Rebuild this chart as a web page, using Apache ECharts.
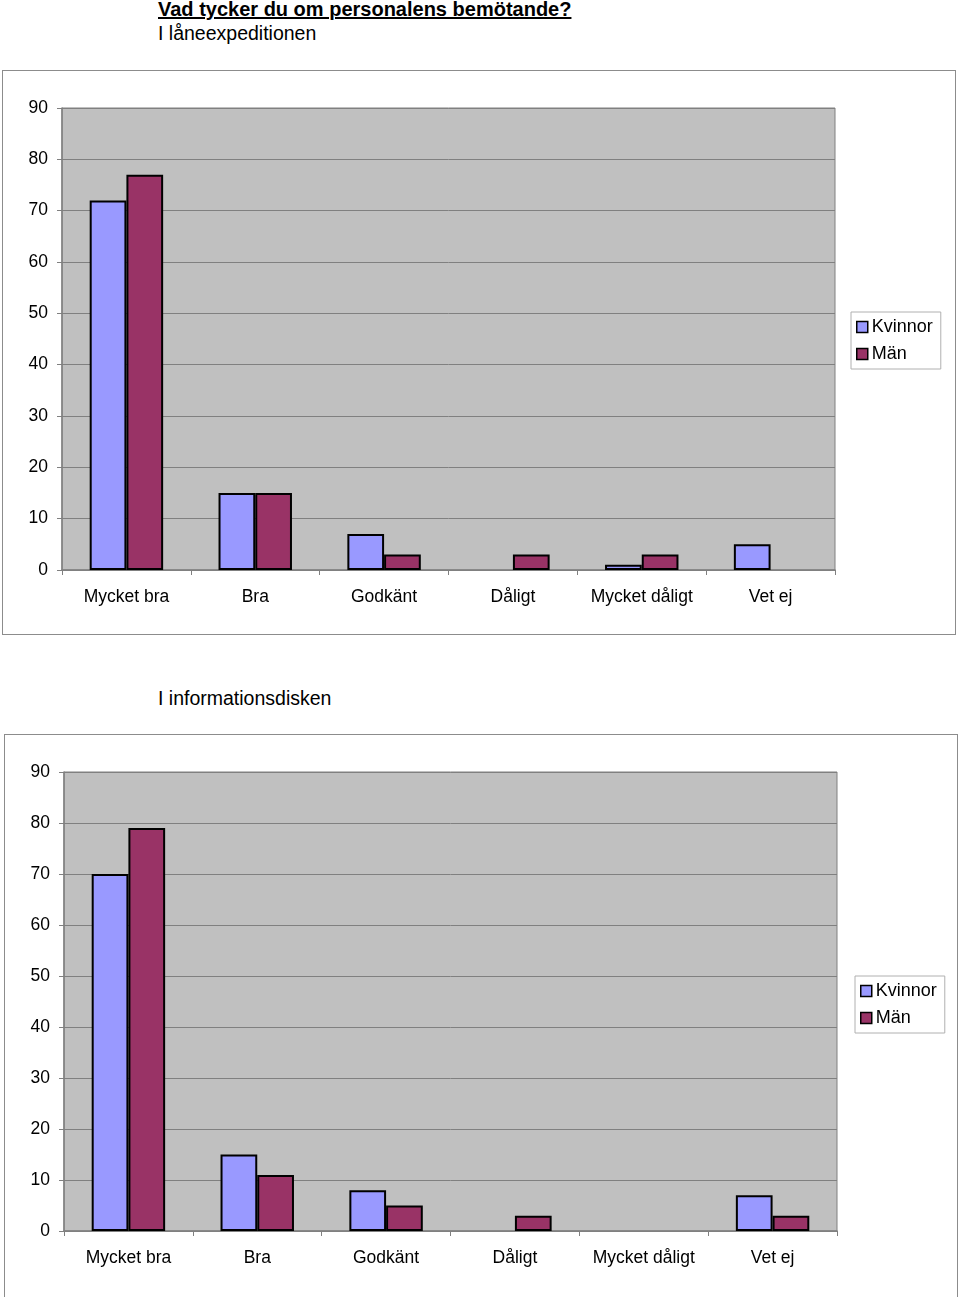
<!DOCTYPE html>
<html>
<head>
<meta charset="utf-8">
<script src="https://cdn.jsdelivr.net/npm/echarts@6/dist/echarts.min.js"></script>
<style>
  body { margin: 0; background: #fff; font-family: "Liberation Sans", Arial, sans-serif; }
  .page { position: relative; width: 960px; height: 1297px; overflow: hidden; }
  .title { position: absolute; left: 158px; top: -2px; font-size: 20px; font-weight: bold; text-decoration: underline; color: #000; }
  .sub { position: absolute; left: 158px; font-size: 19.5px; color: #000; }
  .box { position: absolute; border: 1px solid #8c8c8c; box-sizing: border-box; }
</style>
</head>
<body>
<div class="page">
  <div class="title">Vad tycker du om personalens bemötande?</div>
  <div class="sub" style="top:22px">I låneexpeditionen</div>
  <div id="chart1" class="box" style="left:2px; top:70px; width:954px; height:565px"></div>
  <div class="sub" style="top:687px">I informationsdisken</div>
  <div id="chart2" class="box" style="left:4px; top:734px; width:954px; height:566px"></div>
</div>
<script>
const categories = ['Mycket bra', 'Bra', 'Godkänt', 'Dåligt', 'Mycket dåligt', 'Vet ej']
const seriesNames = ['Kvinnor', 'Män']

// I låneexpeditionen
const lanKvinnor = [72, 15, 7, 0, 1, 5]
const lanMan = [77, 15, 3, 3, 3, 0]

// I informationsdisken
const infoKvinnor = [70, 15, 8, 0, 0, 7]
const infoMan = [79, 11, 5, 3, 0, 3]

const colors = ['#9999ff', '#993366']
const font = '"Liberation Sans", Arial, sans-serif'

// tomma celler ritas inte (ingen svart kant på nollvärden)
function noZero(arr) {
  return arr.map(v => (v === 0 ? null : v))
}

function buildOption(kvinnor, man, gridHeight, legendLeft) {
  return {
    animation: false,
    textStyle: { fontFamily: font },
    grid: {
      left: 59,
      top: 37,
      width: 773,
      height: gridHeight,
      show: true,
      backgroundColor: '#c0c0c0',
      borderColor: '#808080',
      borderWidth: 1
    },
    legend: {
      orient: 'vertical',
      left: legendLeft,
      top: 241,
      data: seriesNames,
      itemWidth: 11,
      itemHeight: 11,
      itemGap: 9,
      padding: [6, 8, 6, 5],
      borderColor: '#b0b0b0',
      borderWidth: 1,
      backgroundColor: '#fff',
      textStyle: { fontSize: 18, color: '#000', padding: [0, 0, 0, -1] },
      icon: 'rect',
      itemStyle: { borderColor: '#000', borderWidth: 1.5 }
    },
    xAxis: {
      type: 'category',
      data: categories,
      axisLine: { lineStyle: { color: '#808080', width: 1.5 } },
      axisTick: { show: true, length: 5, lineStyle: { color: '#808080' } },
      axisLabel: { color: '#000', fontSize: 17.5, margin: 18, interval: 0 }
    },
    yAxis: {
      type: 'value',
      min: 0,
      max: 90,
      interval: 10,
      axisLine: { show: true, lineStyle: { color: '#808080', width: 1.5 } },
      axisTick: { show: true, length: 5, lineStyle: { color: '#808080' } },
      axisLabel: { color: '#000', fontSize: 17.5, margin: 14, padding: [3, 0, 0, 0] },
      splitLine: { lineStyle: { color: '#808080', width: 1 } }
    },
    series: [
      {
        name: seriesNames[0],
        type: 'bar',
        data: noZero(kvinnor),
        barGap: '0%',
        barCategoryGap: '43%',
        itemStyle: { color: colors[0], borderColor: '#000', borderWidth: 2 }
      },
      {
        name: seriesNames[1],
        type: 'bar',
        data: noZero(man),
        itemStyle: { color: colors[1], borderColor: '#000', borderWidth: 2 }
      }
    ]
  }
}

const chart1 = echarts.init(document.getElementById('chart1'))
chart1.setOption(buildOption(lanKvinnor, lanMan, 462, 848))

const chart2 = echarts.init(document.getElementById('chart2'))
chart2.setOption(buildOption(infoKvinnor, infoMan, 459, 850))
</script>
</body>
</html>
